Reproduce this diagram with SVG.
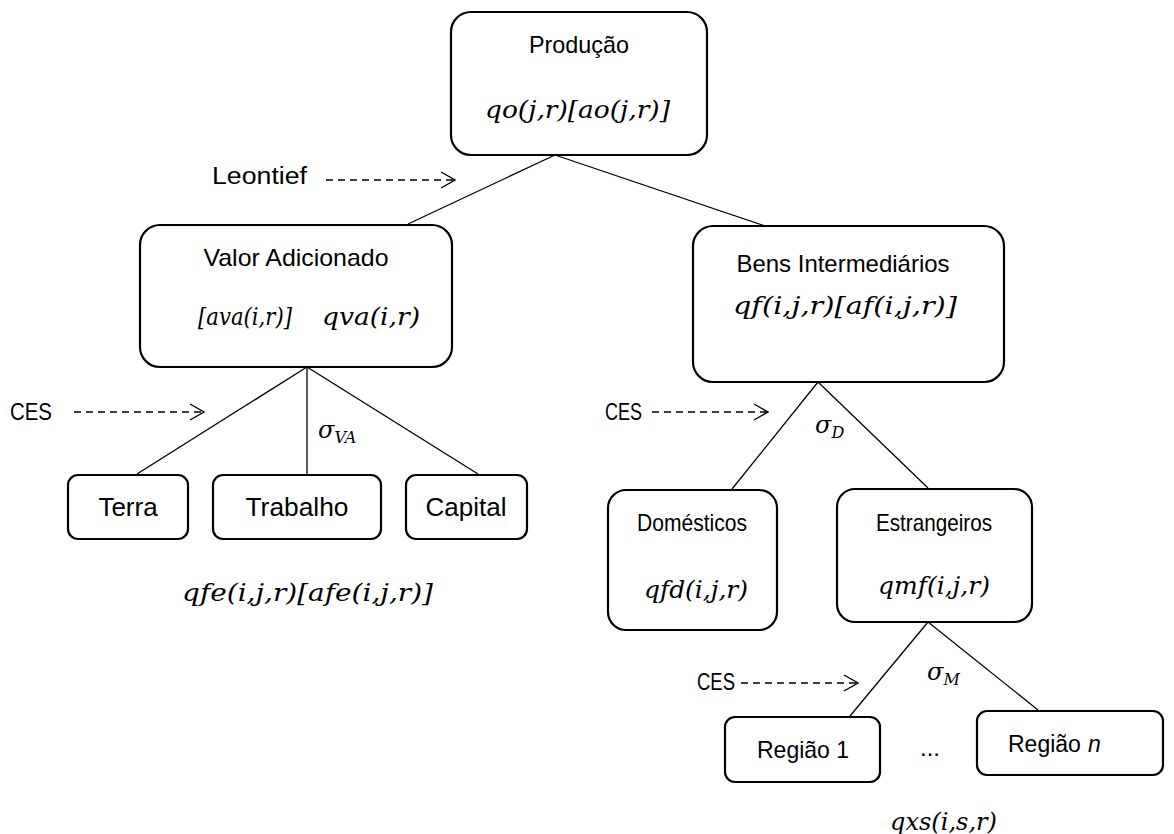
<svg xmlns="http://www.w3.org/2000/svg" width="1174" height="834" viewBox="0 0 1174 834">
<defs>
<marker id="chev" viewBox="0 0 16 18" markerWidth="16" markerHeight="18" refX="15" refY="9" orient="auto" markerUnits="userSpaceOnUse">
<path d="M1,1 L15,9 L1,17" fill="none" stroke="#000" stroke-width="1.4"/>
</marker>
</defs>
<style>
.box{fill:#fff;stroke:#000;stroke-width:2.2}
.ln{stroke:#000;stroke-width:1.3;fill:none}
.dash{stroke:#000;stroke-width:1.4;fill:none;stroke-dasharray:7 5}
.t{font-family:"Liberation Sans","Open Sans",sans-serif;font-size:24px;fill:#000;text-anchor:middle}
.tb{font-family:"Liberation Sans","Open Sans",sans-serif;font-size:26px;fill:#000;text-anchor:middle}
.c{font-family:"Liberation Sans","Open Sans",sans-serif;font-size:23px;fill:#000}
.m{font-family:"DejaVu Serif","Liberation Serif",serif;font-style:italic;font-size:24px;fill:#000}
.sub{font-size:16px}
</style>
<rect width="1174" height="834" fill="#fff"/>
<g id="connectors">
<line class="ln" x1="555" y1="155" x2="408" y2="224"/>
<line class="ln" x1="555" y1="155" x2="765" y2="226"/>
<line class="ln" x1="307" y1="367" x2="137" y2="474"/>
<line class="ln" x1="307" y1="367" x2="307" y2="474"/>
<line class="ln" x1="307" y1="367" x2="478" y2="474"/>
<line class="ln" x1="818" y1="382" x2="732" y2="489"/>
<line class="ln" x1="818" y1="382" x2="928" y2="488"/>
<line class="ln" x1="928" y1="622" x2="850" y2="716"/>
<line class="ln" x1="928" y1="622" x2="1038" y2="710"/>
<line class="dash" x1="326" y1="180" x2="455" y2="180" marker-end="url(#chev)"/>
<line class="dash" x1="74" y1="412" x2="204" y2="412" marker-end="url(#chev)"/>
<line class="dash" x1="652" y1="412" x2="768" y2="412" marker-end="url(#chev)"/>
<line class="dash" x1="741" y1="683" x2="858" y2="683" marker-end="url(#chev)"/>
</g>
<g id="producao">
<rect class="box" x="451" y="12" width="256" height="143" rx="20"/>
<text class="t" x="579" y="53" textLength="100" lengthAdjust="spacingAndGlyphs">Produção</text>
<text class="m" x="485" y="118" textLength="185" lengthAdjust="spacingAndGlyphs">qo(j,r)[ao(j,r)]</text>
</g>
<g id="leontief">
<text class="c" x="212" y="184" textLength="95" lengthAdjust="spacingAndGlyphs">Leontief</text>
</g>
<g id="valor-adicionado">
<rect class="box" x="140" y="225" width="312" height="142" rx="20"/>
<text class="t" x="296" y="266" textLength="185" lengthAdjust="spacingAndGlyphs">Valor Adicionado</text>
<text class="m" x="198" y="325" textLength="94" lengthAdjust="spacingAndGlyphs">[ava(i,r)]</text>
<text class="m" x="322" y="325" textLength="98" lengthAdjust="spacingAndGlyphs">qva(i,r)</text>
</g>
<g id="bens-intermediarios">
<rect class="box" x="693" y="226" width="311" height="156" rx="20"/>
<text class="t" x="843" y="272" textLength="213" lengthAdjust="spacingAndGlyphs">Bens Intermediários</text>
<text class="m" x="733" y="314" textLength="224" lengthAdjust="spacingAndGlyphs">qf(i,j,r)[af(i,j,r)]</text>
</g>
<g id="ces-va">
<text class="c" x="10" y="420" textLength="42" lengthAdjust="spacingAndGlyphs">CES</text>
<text class="m" x="318" y="438">σ<tspan class="sub" dy="5">VA</tspan></text>
</g>
<g id="terra">
<rect class="box" x="68" y="475" width="120" height="64" rx="10"/>
<text class="tb" x="128" y="516">Terra</text>
</g>
<g id="trabalho">
<rect class="box" x="213" y="475" width="168" height="64" rx="10"/>
<text class="tb" x="297" y="516" textLength="103" lengthAdjust="spacingAndGlyphs">Trabalho</text>
</g>
<g id="capital">
<rect class="box" x="406" y="475" width="121" height="64" rx="10"/>
<text class="tb" x="466" y="516">Capital</text>
</g>
<g id="qfe">
<text class="m" x="182" y="601" textLength="251" lengthAdjust="spacingAndGlyphs">qfe(i,j,r)[afe(i,j,r)]</text>
</g>
<g id="ces-d">
<text class="c" x="605" y="420" textLength="37" lengthAdjust="spacingAndGlyphs">CES</text>
<text class="m" x="815" y="433">σ<tspan class="sub" dy="5">D</tspan></text>
</g>
<g id="domesticos">
<rect class="box" x="608" y="490" width="169" height="140" rx="18"/>
<text class="t" x="692" y="531" textLength="110" lengthAdjust="spacingAndGlyphs">Domésticos</text>
<text class="m" x="644" y="598" textLength="104" lengthAdjust="spacingAndGlyphs">qfd(i,j,r)</text>
</g>
<g id="estrangeiros">
<rect class="box" x="837" y="489" width="195" height="133" rx="18"/>
<text class="t" x="934" y="531" textLength="116" lengthAdjust="spacingAndGlyphs">Estrangeiros</text>
<text class="m" x="878" y="594" textLength="112" lengthAdjust="spacingAndGlyphs">qmf(i,j,r)</text>
</g>
<g id="ces-m">
<text class="c" x="697" y="690" textLength="38" lengthAdjust="spacingAndGlyphs">CES</text>
<text class="m" x="927" y="680">σ<tspan class="sub" dy="5">M</tspan></text>
</g>
<g id="regiao-1">
<rect class="box" x="725" y="717" width="155" height="65" rx="10"/>
<text class="t" x="803" y="758" textLength="92" lengthAdjust="spacingAndGlyphs">Região 1</text>
</g>
<g id="ellipsis">
<text class="t" x="930" y="756">...</text>
</g>
<g id="regiao-n">
<rect class="box" x="977" y="711" width="186" height="64" rx="10"/>
<text class="c" x="1008" y="752" font-size="24">Região</text>
<text class="c" x="1088" y="752" font-size="24" font-style="italic">n</text>
</g>
<g id="qxs">
<text class="m" x="890" y="830" textLength="107" lengthAdjust="spacingAndGlyphs">qxs(i,s,r)</text>
</g>
<g id="fonte">
<text x="45" y="853" style="font-family:'Liberation Serif',serif;font-size:26px;fill:#000">Fonte: Baseado em Hertel (1997)</text>
</g>
</svg>
